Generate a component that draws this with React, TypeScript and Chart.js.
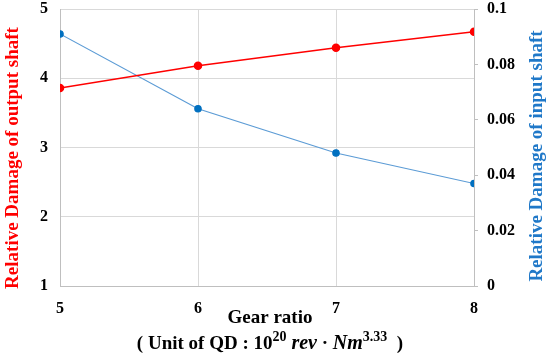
import React, { useEffect, useRef } from "react";
import { Chart, registerables } from "chart.js";

Chart.register(...registerables);

const gearRatios = [5, 6, 7, 8];
const outputShaftDamage = [3.86, 4.18, 4.44, 4.67];
const inputShaftDamage = [0.091, 0.064, 0.048, 0.037];
const xTitleLine1 = "Gear ratio";
const leftTitle = "Relative Damage of output shaft";
const rightTitle = "Relative Damage of input shaft";

const SERIF = "'Liberation Serif', 'Times New Roman', serif";
const RED = "#FF0000";
const BLUE_TEXT = "#1F78C8";
const BLUE_LINE = "#5B9BD5";
const BLUE_POINT = "#0070C0";

const titlesPlugin = {
  id: "customTitles",
  afterDraw(chart: any) {
    const ctx = chart.ctx as CanvasRenderingContext2D;
    const area = chart.chartArea;
    ctx.save();
    ctx.font = `bold 19px ${SERIF}`;
    ctx.fillStyle = RED;
    ctx.textAlign = "center";
    ctx.textBaseline = "middle";
    ctx.save();
    ctx.translate(13, 158);
    ctx.rotate(-Math.PI / 2);
    ctx.fillText(leftTitle, 0, 0);
    ctx.restore();
    ctx.fillStyle = BLUE_TEXT;
    ctx.save();
    ctx.translate(537, 156);
    ctx.rotate(-Math.PI / 2);
    ctx.fillText(rightTitle, 0, 0);
    ctx.restore();

    const cx = (area.left + area.right) / 2 + 3;
    ctx.fillStyle = "#000";
    ctx.font = `bold 19px ${SERIF}`;
    ctx.fillText(xTitleLine1, cx, 318);

    const big = `bold 19px ${SERIF}`;
    const bigIt = `italic bold 20px ${SERIF}`;
    const sup = `bold 14px ${SERIF}`;
    const parts: { t: string; f: string; dy: number }[] = [
      { t: "( Unit of QD : ", f: big, dy: 0 },
      { t: "10", f: big, dy: 0 },
      { t: "20", f: sup, dy: -8 },
      { t: " rev", f: bigIt, dy: 0 },
      { t: " \u00B7 ", f: big, dy: 0 },
      { t: "Nm", f: bigIt, dy: 0 },
      { t: "3.33", f: sup, dy: -8 },
      { t: "  )", f: big, dy: 0 },
    ];
    let total = 0;
    const widths = parts.map((p) => {
      ctx.font = p.f;
      const w = ctx.measureText(p.t).width;
      total += w;
      return w;
    });
    let x = cx - total / 2;
    ctx.textAlign = "left";
    ctx.textBaseline = "alphabetic";
    const base = 349;
    parts.forEach((p, i) => {
      ctx.font = p.f;
      ctx.fillText(p.t, x, base + p.dy);
      x += widths[i];
    });
    ctx.restore();
  },
};

export default function App() {
  const canvasRef = useRef<HTMLCanvasElement | null>(null);

  useEffect(() => {
    if (!canvasRef.current) return;
    const tickFont = { family: SERIF, size: 16, weight: "bold" };
    const chart = new Chart(canvasRef.current, {
      type: "line",
      data: {
        datasets: [
          {
            label: "output",
            data: gearRatios.map((g, i) => ({ x: g, y: outputShaftDamage[i] })),
            borderColor: RED,
            backgroundColor: RED,
            borderWidth: 1.5,
            pointRadius: 3.5,
            pointBackgroundColor: RED,
            pointBorderColor: RED,
            yAxisID: "y",
            tension: 0,
          },
          {
            label: "input",
            data: gearRatios.map((g, i) => ({ x: g, y: inputShaftDamage[i] })),
            borderColor: BLUE_LINE,
            backgroundColor: BLUE_POINT,
            borderWidth: 1.2,
            pointRadius: 3.2,
            pointBackgroundColor: BLUE_POINT,
            pointBorderColor: BLUE_POINT,
            yAxisID: "y1",
            tension: 0,
          },
        ],
      },
      options: {
        animation: false,
        responsive: true,
        maintainAspectRatio: false,
        layout: { padding: { top: 9, left: 0, right: 0, bottom: 0 } },
        plugins: { legend: { display: false }, tooltip: { enabled: false } },
        scales: {
          x: {
            type: "linear",
            min: 5,
            max: 8,
            ticks: { stepSize: 1, padding: 13, color: "#000", font: tickFont },
            grid: { color: "#D9D9D9", drawTicks: false },
            border: { color: "#BFBFBF" },
            afterFit: (s: any) => {
              s.height = 67;
              s.paddingLeft = 0;
              s.paddingRight = 0;
            },
          },
          y: {
            type: "linear",
            position: "left",
            min: 1,
            max: 5,
            ticks: { stepSize: 1, padding: 12, color: "#000", font: tickFont },
            grid: { color: "#D9D9D9", drawTicks: false },
            border: { color: "#BFBFBF" },
            afterFit: (s: any) => {
              s.width = 60;
              s.paddingTop = 0;
              s.paddingBottom = 0;
            },
          },
          y1: {
            type: "linear",
            position: "right",
            min: 0,
            max: 0.1,
            ticks: {
              stepSize: 0.02,
              padding: 9,
              color: "#000",
              font: tickFont,
              callback: (v: any) => String(parseFloat(Number(v).toFixed(2))),
            },
            grid: { drawOnChartArea: false, color: "#BFBFBF", tickLength: 4 },
            border: { color: "#BFBFBF" },
            afterFit: (s: any) => {
              s.width = 76;
              s.paddingTop = 0;
              s.paddingBottom = 0;
            },
          },
        },
      },
      plugins: [titlesPlugin],
    } as any);
    return () => chart.destroy();
  }, []);

  return (
    <div style={{ position: "absolute", left: 0, top: 0, width: 550, height: 353 }}>
      <canvas ref={canvasRef} />
    </div>
  );
}
